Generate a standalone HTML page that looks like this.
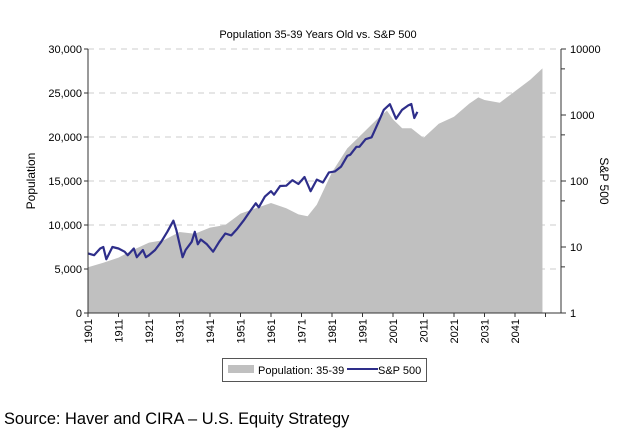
<!DOCTYPE html>
<html><head><meta charset="utf-8"><style>
body{margin:0;background:#fff;width:640px;height:434px;overflow:hidden;font-family:"Liberation Sans",sans-serif}
svg text{font-family:"Liberation Sans",sans-serif}
</style></head><body>
<svg id="c" width="640" height="434" xmlns="http://www.w3.org/2000/svg">
<text x="318" y="38" font-size="11" text-anchor="middle">Population 35-39 Years Old vs. S&amp;P 500</text>
<g id="grid"></g><g id="area"></g><g id="line"></g><g id="axes"></g>
<text transform="translate(35,181) rotate(-90)" font-size="12" text-anchor="middle">Population</text>
<text transform="translate(600,181) rotate(90)" font-size="12" text-anchor="middle">S&amp;P 500</text>
<g>
<rect x="222.5" y="358.5" width="204" height="23" fill="#fff" stroke="#555" stroke-width="1"/>
<rect x="228" y="365" width="26" height="8" fill="#c0c0c0"/>
<text x="258" y="374" font-size="11">Population: 35-39</text>
<line x1="347" y1="369" x2="378" y2="369" stroke="#2e2e8a" stroke-width="2"/>
<text x="378" y="374" font-size="11">S&amp;P 500</text>
</g>
<text x="4" y="424" font-size="16.4">Source: Haver and CIRA – U.S. Equity Strategy</text>
</svg>
<script>
const popYears=[1901,1906,1911,1916,1921,1926,1931,1936,1941,1946,1951,1956,1961,1966,1970,1973,1976,1981,1986,1991,1996,1999,2001,2004,2007,2011,2016,2021,2026,2029,2031,2036,2041,2046,2050];
const popValues=[5200,5700,6300,7200,8000,8300,9200,9000,9700,10000,11300,11900,12500,11900,11200,11000,12300,16000,18700,20400,22100,23000,22000,21000,21000,19900,21500,22300,23800,24500,24200,23900,25200,26500,27800];
const spYears=[1901,1903,1905,1906,1907,1909,1911,1913,1914,1916,1917,1919,1920,1921,1923,1925,1927,1929,1930,1932,1933,1935,1936,1937,1938,1940,1942,1944,1946,1948,1950,1952,1954,1956,1957,1959,1961,1962,1964,1966,1968,1970,1972,1974,1976,1978,1980,1982,1984,1986,1987,1989,1990,1992,1994,1996,1998,2000,2002,2004,2006,2007,2008,2009];
const spValues=[8,7.5,9.5,10,6.5,10,9.5,8.5,7.5,9.5,7,9,7,7.5,9,12,17,25,18,7,9,12,17,11,13,11,8.5,12,16,15,19,25,34,46,40,58,70,62,84,85,103,90,115,70,105,95,135,140,165,240,250,330,330,430,460,740,1200,1460,880,1200,1400,1470,900,1115];
const leftTicks=[0,5000,10000,15000,20000,25000,30000];
const leftLabels=["0","5,000","10,000","15,000","20,000","25,000","30,000"];
const rightTicks=[1,10,100,1000,10000];
const xTickYears=[1901,1911,1921,1931,1941,1951,1961,1971,1981,1991,2001,2011,2021,2031,2041,2051];
const X0=88,Y0=313,Y1=49,XR=561;
const px=y=>X0+(y-1901)*3.05;
const pyL=v=>Y0-(v/30000)*(Y0-Y1);
const pyR=v=>Y0-(Math.log10(v)/4)*(Y0-Y1);
const NS="http://www.w3.org/2000/svg";
function mk(t,a,p){const e=document.createElementNS(NS,t);for(const k in a)e.setAttribute(k,a[k]);p.appendChild(e);return e;}
const grid=document.getElementById('grid'),axes=document.getElementById('axes');
leftTicks.forEach((v,i)=>{
 if(v>0){const g=mk('line',{x1:X0,x2:XR,y1:pyL(v),y2:pyL(v),stroke:'#ccc','stroke-dasharray':'6,5'},grid);
 
 }
 const tk=mk('line',{x1:X0-4,x2:X0,y1:pyL(v),y2:pyL(v),stroke:'#333'},axes);
 
 
 const t=mk('text',{x:X0-6,y:pyL(v)+4,'font-size':11,'text-anchor':'end'},axes);t.textContent=leftLabels[i];
 
 
});
for(let d=0;d<4;d++){const v=5*Math.pow(10,d);
 const tk=mk('line',{x1:XR,x2:XR+4,y1:pyR(v),y2:pyR(v),stroke:'#333'},axes);
 
 }
rightTicks.forEach(v=>{
 const tk=mk('line',{x1:XR,x2:XR+5,y1:pyR(v),y2:pyR(v),stroke:'#333'},axes);
 
 
 const t=mk('text',{x:XR+9,y:pyR(v)+4,'font-size':11},axes);t.textContent=String(v);
 
 
});
let d='M'+px(popYears[0])+','+Y0;
popYears.forEach((y,i)=>{d+=' L'+px(y)+','+pyL(popValues[i]).toFixed(1);});
d+=' L'+px(popYears[popYears.length-1])+','+Y0+' Z';
const ar=mk('path',{d:d,fill:'#c0c0c0'},document.getElementById('area'));


const pts=spYears.map((y,i)=>px(y).toFixed(1)+','+pyR(spValues[i]).toFixed(1)).join(' ');
const ln=mk('polyline',{points:pts,fill:'none',stroke:'#2e2e8a','stroke-width':2.2,'stroke-linejoin':'round'},document.getElementById('line'));


const ax1=mk('line',{x1:X0,x2:X0,y1:Y1,y2:Y0,stroke:'#333'},axes);


const ax2=mk('line',{x1:XR,x2:XR,y1:Y1,y2:Y0,stroke:'#333'},axes);


const ax3=mk('line',{x1:X0,x2:XR,y1:Y0,y2:Y0,stroke:'#333'},axes);


xTickYears.forEach(y=>{
 const tk=mk('line',{x1:px(y),x2:px(y),y1:Y0,y2:Y0+4,stroke:'#333'},axes);
 
 
 if(y<2051){const t=mk('text',{transform:'translate('+(px(y)+4)+','+(Y0+6)+') rotate(-90)','font-size':11,'text-anchor':'end'},axes);t.textContent=String(y);
 
 }
});
</script>
</body></html>
